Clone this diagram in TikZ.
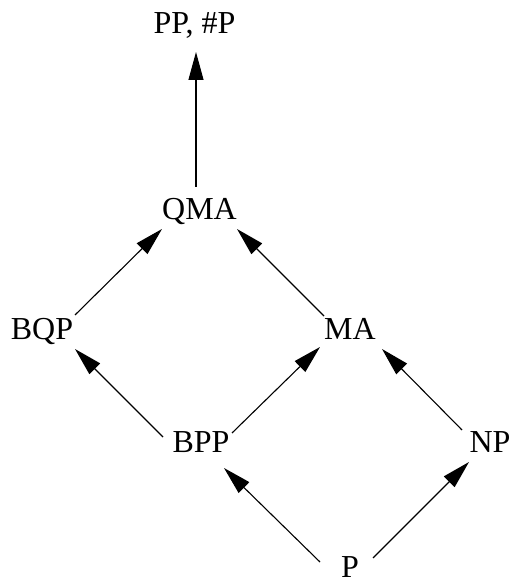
\documentclass[tikz,border=0pt]{standalone}
\usepackage{fontspec}
\setmainfont{Liberation Serif}
\usetikzlibrary{arrows.meta}
\begin{document}
\begin{tikzpicture}[x=1pt,y=1pt,
  cls/.style={anchor=base,inner sep=0pt,font=\fontsize{32}{32}\selectfont},
  incl/.style={line width=1.1pt,-{Triangle[length=28pt,width=15pt]}}]
\useasboundingbox (0,0) rectangle (511,584);
% complexity classes
\node[cls] (pp)  at (194.5,550) {PP, \#P};
\node[cls] (qma) at (199.5,364) {QMA};
\node[cls] (bqp) at (42,244)   {BQP};
\node[cls] (ma)  at (350,244)  {MA};
\node[cls] (bpp) at (201,131)  {BPP};
\node[cls] (np)  at (490,131)  {NP};
\node[cls] (p)   at (350,6)    {P};
% inclusions
\draw[incl] ([shift={(-3.5,33)}]qma.base) -- ([shift={(1.5,-18)}]pp.base);
\draw[incl] ([shift={(33,25)}]bqp.base) -- ([shift={(-37.5,-9)}]qma.base);
\draw[incl] ([shift={(-26,24)}]ma.base) -- ([shift={(37.5,-9)}]qma.base);
\draw[incl] ([shift={(-38,16)}]bpp.base) -- ([shift={(33,-9)}]bqp.base);
\draw[incl] ([shift={(31,20)}]bpp.base) -- ([shift={(-30,-7)}]ma.base);
\draw[incl] ([shift={(-28,23)}]np.base) -- ([shift={(32,-9)}]ma.base);
\draw[incl] ([shift={(-30,16)}]p.base) -- ([shift={(23,-15)}]bpp.base);
\draw[incl] ([shift={(23,20)}]p.base) -- ([shift={(-21,-9)}]np.base);
\end{tikzpicture}
\end{document}
